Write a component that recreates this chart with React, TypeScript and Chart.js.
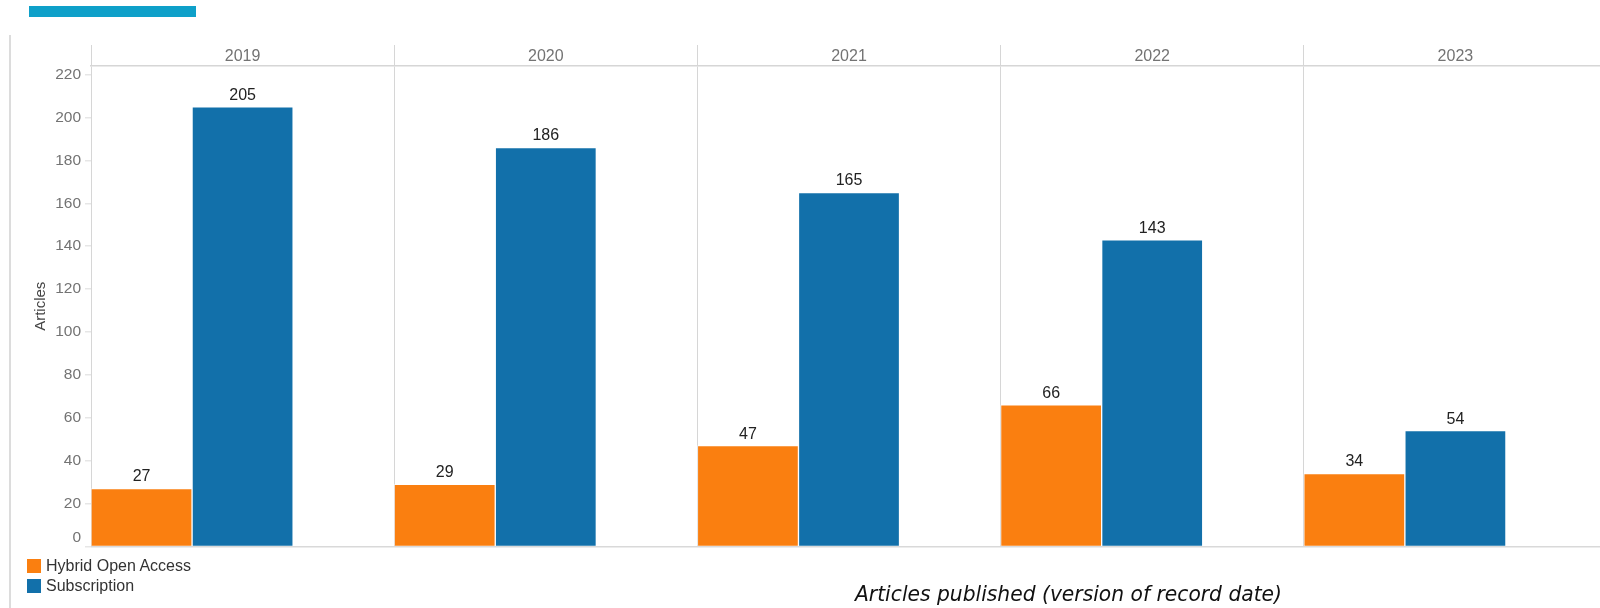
import React, { useEffect, useRef } from 'react';
import { Chart, registerables } from 'chart.js';

Chart.register(...registerables);

const categories = ['2019', '2020', '2021', '2022', '2023'];
const hybridOpenAccess = [27, 29, 47, 66, 34];
const subscription = [205, 186, 165, 143, 54];
const spacer = [null, null, null, null, null];
const seriesLabels = ['Hybrid Open Access', 'Subscription'];
const seriesColors = ['#fa7f10', '#1270aa'];
const yAxisTitle = 'Articles';
const caption = 'Articles published (version of record date)';
const yMin = 0;
const yMax = 224;
const yStep = 20;

const FONT = '"Liberation Sans", Arial, sans-serif';
const TICK_COLOR = '#737373';

export default function App() {
  const ref = useRef<HTMLCanvasElement>(null);

  useEffect(() => {
    const canvas = ref.current!;
    const valueLabels = {
      id: 'valueLabels',
      afterDatasetsDraw(chart: any) {
        const ctx = chart.ctx;
        ctx.save();
        ctx.font = `16px ${FONT}`;
        ctx.fillStyle = '#222';
        ctx.textAlign = 'center';
        ctx.textBaseline = 'middle';
        [0, 1].forEach((di) => {
          const meta = chart.getDatasetMeta(di);
          meta.data.forEach((el: any, i: number) => {
            const v = chart.data.datasets[di].data[i];
            if (v == null) return;
            ctx.fillText(String(v), el.x, el.y - 11.5);
          });
        });
        ctx.restore();
      },
    };
    const zeroTick = {
      id: 'zeroTick',
      afterDraw(chart: any) {
        const s = chart.scales.y;
        const ctx = chart.ctx;
        ctx.save();
        ctx.font = `15.5px ${FONT}`;
        ctx.fillStyle = TICK_COLOR;
        ctx.textAlign = 'right';
        ctx.textBaseline = 'middle';
        ctx.fillText(String(yMin), s.right - 10, s.getPixelForValue(yMin) - 9);
        ctx.restore();
      },
    };
    const captionPlugin = {
      id: 'captionPlugin',
      afterDraw(chart: any) {
        const ctx = chart.ctx;
        ctx.save();
        ctx.font = 'italic 21px "DejaVu Sans Condensed", "DejaVu Sans", sans-serif';
        const w = ctx.measureText(caption).width;
        const sx = 427 / w;
        ctx.translate(855, 601);
        ctx.scale(sx, 1);
        ctx.fillStyle = '#111';
        ctx.textAlign = 'left';
        ctx.textBaseline = 'alphabetic';
        ctx.fillText(caption, 0, 0);
        ctx.restore();
      },
    };

    const chart = new Chart(canvas, {
      type: 'bar',
      data: {
        labels: categories,
        datasets: [
          {
            label: seriesLabels[0],
            data: hybridOpenAccess,
            backgroundColor: seriesColors[0],
            borderColor: 'rgba(255,255,255,0.45)',
            borderWidth: 1,
          },
          {
            label: seriesLabels[1],
            data: subscription,
            backgroundColor: seriesColors[1],
            borderColor: 'rgba(255,255,255,0.45)',
            borderWidth: 1,
          },
          {
            label: '',
            data: spacer as any,
            backgroundColor: 'rgba(0,0,0,0)',
          },
        ],
      },
      options: {
        responsive: false,
        maintainAspectRatio: false,
        animation: false,
        devicePixelRatio: 1,
        layout: { padding: { left: 0, top: 0, right: 13, bottom: 61.5 } },
        datasets: { bar: { categoryPercentage: 1, barPercentage: 1 } },
        plugins: {
          legend: { display: false },
          tooltip: { enabled: false },
          title: { display: false },
        },
        scales: {
          x: {
            type: 'category',
            position: 'top',
            offset: true,
            grid: {
              display: true,
              offset: true,
              drawOnChartArea: true,
              drawTicks: true,
              tickLength: 21,
              color: '#d6d6d6',
              lineWidth: 1,
            },
            border: { display: true, color: '#d6d6d6', width: 1.5 },
            ticks: {
              padding: -21.5,
              color: TICK_COLOR,
              font: { family: FONT, size: 16 },
              maxRotation: 0,
            },
            afterFit(scale: any) {
              scale.height = 66;
            },
          },
          y: {
            type: 'linear',
            min: yMin,
            max: yMax,
            grid: {
              display: true,
              drawOnChartArea: true,
              drawTicks: true,
              tickLength: 6,
              color: (ctx: any) => (ctx.tick && ctx.tick.value === 0 ? '#d9d9d9' : 'rgba(0,0,0,0)'),
              tickColor: '#e6e6e6',
              lineWidth: 1.5,
            },
            border: { display: false },
            ticks: {
              stepSize: yStep,
              includeBounds: false,
              padding: 4,
              color: TICK_COLOR,
              font: { family: FONT, size: 15.5 },
              callback: (v: any) => (v === yMin ? '' : String(v)),
            },
            title: {
              display: true,
              text: yAxisTitle,
              color: '#444',
              font: { family: FONT, size: 15 },
              padding: { top: 32, bottom: 0 },
            },
            afterFit(scale: any) {
              scale.width = 91;
            },
          },
        },
      },
      plugins: [valueLabels, zeroTick, captionPlugin],
    } as any);
    return () => chart.destroy();
  }, []);

  return (
    <div
      style={{
        position: 'fixed',
        left: 0,
        top: 0,
        width: 1600,
        height: 608,
        overflow: 'hidden',
        background: '#fff',
        fontFamily: FONT,
      }}
    >
      <div style={{ position: 'absolute', left: 29, top: 6, width: 167, height: 11, background: '#0ea0c9' }} />
      <div style={{ position: 'absolute', left: 9, top: 35, width: 2, height: 573, background: '#dcdcdc' }} />
      <canvas
        ref={ref}
        width={1620}
        height={608}
        style={{ position: 'absolute', left: 0, top: 0, width: 1620, height: 608 }}
      />
      {seriesLabels.map((lab, i) => (
        <div
          key={lab}
          style={{ position: 'absolute', left: 27, top: 559 + i * 20, height: 14, display: 'flex', alignItems: 'center' }}
        >
          <span style={{ display: 'inline-block', width: 14, height: 14, background: seriesColors[i] }} />
          <span style={{ marginLeft: 5, fontSize: 16, color: '#333', lineHeight: '14px', whiteSpace: 'nowrap' }}>{lab}</span>
        </div>
      ))}
    </div>
  );
}
